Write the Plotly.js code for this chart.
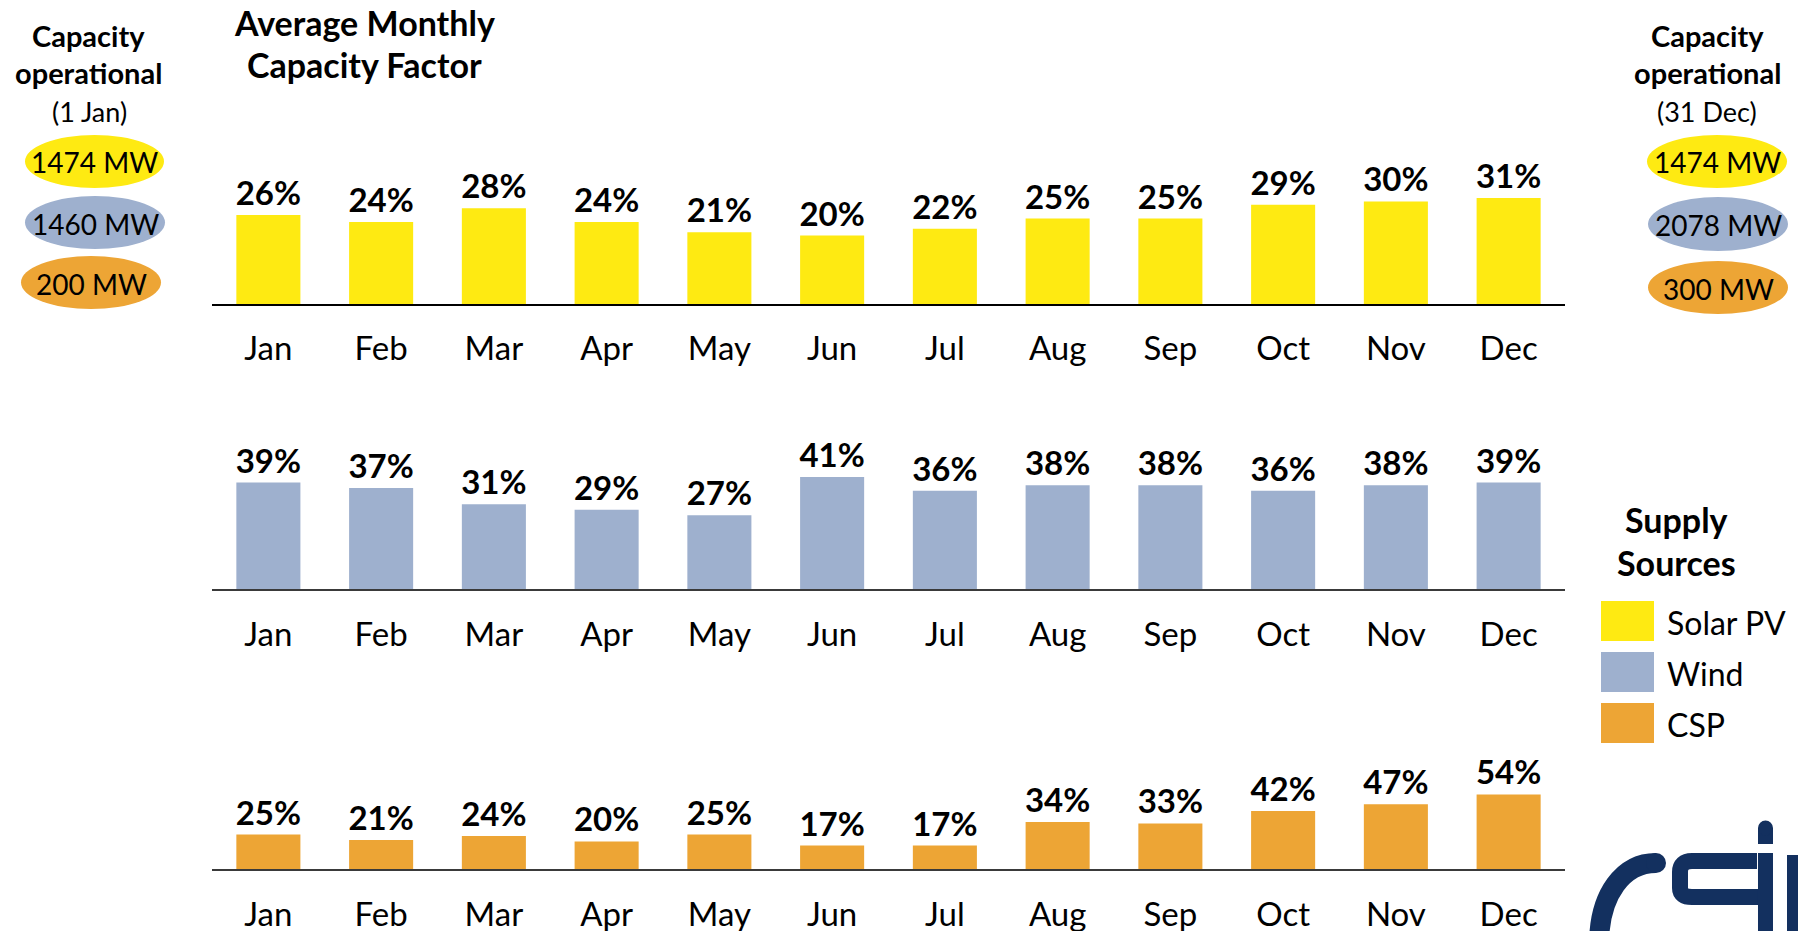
<!DOCTYPE html>
<html>
<head>
<meta charset="utf-8">
<script src="https://cdn.plot.ly/plotly-3.0.1.min.js"></script>
<style>
  html, body { margin: 0; padding: 0; background: #ffffff; }
  #chart { width: 1798px; height: 931px; }
</style>
</head>
<body>
<div id="chart"></div>
<script>
// ---------------- DATA ----------------
const months = ['Jan', 'Feb', 'Mar', 'Apr', 'May', 'Jun', 'Jul', 'Aug', 'Sep', 'Oct', 'Nov', 'Dec'];
const solarPV = [26, 24, 28, 24, 21, 20, 22, 25, 25, 29, 30, 31];
const wind    = [39, 37, 31, 29, 27, 41, 36, 38, 38, 36, 38, 39];
const csp     = [25, 21, 24, 20, 25, 17, 17, 34, 33, 42, 47, 54];
const sourceNames = ['Solar PV', 'Wind', 'CSP'];
const capacityStart = ['1474 MW', '1460 MW', '200 MW'];   // 1 Jan
const capacityEnd   = ['1474 MW', '2078 MW', '300 MW'];   // 31 Dec
const titleLines = ['Average Monthly', 'Capacity Factor'];

// ---------------- STYLE / LAYOUT ----------------
const W = 1798, H = 931;
const FONT = 'Lato, "Open Sans", sans-serif';
const colors = ['#FEEA12', '#9EB0CE', '#EDA535'];
const X = p => p / W;
const Y = p => 1 - p / H;

// panel geometry in pixels: axis baseline, top of panel, px per percent
const panels = [
  { axis: 304, top: 140, ppp: 3.42, line: '#000000', lw: 1.5 },
  { axis: 589, top: 420, ppp: 2.73, line: '#3a3a3a', lw: 2 },
  { axis: 869, top: 690, ppp: 1.38, line: '#3a3a3a', lw: 2 }
];
const series = [solarPV, wind, csp];
const xDomain = [X(212), X(1565)];

const traces = series.map((vals, i) => ({
  type: 'bar',
  x: months,
  y: vals,
  xaxis: i === 0 ? 'x' : 'x' + (i + 1),
  yaxis: i === 0 ? 'y' : 'y' + (i + 1),
  name: sourceNames[i],
  marker: { color: colors[i], line: { width: 0 } },
  text: vals.map(v => v + '%'),
  textposition: 'outside',
  constraintext: 'none',
  cliponaxis: false,
  textfont: { family: FONT, size: 33, color: '#000000', weight: 700 },
  hoverinfo: 'skip'
}));

const layout = {
  width: W, height: H,
  margin: { l: 0, r: 0, t: 0, b: 0, pad: 0 },
  paper_bgcolor: '#ffffff',
  plot_bgcolor: 'rgba(0,0,0,0)',
  showlegend: false,
  bargap: 0.432,
  font: { family: FONT, color: '#000000' },
  shapes: [],
  annotations: []
};

panels.forEach((p, i) => {
  const xa = i === 0 ? 'xaxis' : 'xaxis' + (i + 1);
  const ya = i === 0 ? 'yaxis' : 'yaxis' + (i + 1);
  const yid = i === 0 ? 'y' : 'y' + (i + 1);
  layout[xa] = {
    domain: xDomain,
    anchor: yid,
    type: 'category',
    showline: true, linecolor: p.line, linewidth: p.lw,
    showgrid: false, zeroline: false,
    ticks: '',
    ticklabelstandoff: 15,
    tickfont: { family: FONT, size: 33, color: '#000000' },
    fixedrange: true
  };
  layout[ya] = {
    domain: [Y(p.axis), Y(p.top)],
    range: [0, (p.axis - p.top) / p.ppp],
    visible: false,
    fixedrange: true
  };
});

function ann(text, x, y, size, bold, xanchor) {
  layout.annotations.push({
    text: text, xref: 'paper', yref: 'paper',
    x: X(x), y: Y(y), xanchor: xanchor || 'center', yanchor: 'middle',
    showarrow: false,
    font: { family: FONT, size: size, color: '#000000', weight: bold ? 700 : 400 }
  });
}

// title
ann(titleLines[0], 364, 22, 34, true);
ann(titleLines[1], 364, 65, 34, true);

// capacity headers
ann('Capacity', 88, 35, 29, true);
ann('operational', 88, 72, 29, true);
ann('(1 Jan)', 89, 111, 27, false);
ann('Capacity', 1707, 35, 29, true);
ann('operational', 1707, 72, 29, true);
ann('(31 Dec)', 1707, 111, 27, false);

// pills
const leftPills = [[25, 164, 135, 188], [25, 165, 196, 249], [21, 161, 256, 309]];
const rightPills = [[1647, 1787, 135, 188], [1648, 1788, 197, 251], [1648, 1788, 261, 314]];
function pill(b, color, text) {
  layout.shapes.push({
    type: 'circle', xref: 'paper', yref: 'paper',
    x0: X(b[0]), x1: X(b[1]), y0: Y(b[3]), y1: Y(b[2]),
    fillcolor: color, line: { width: 0 }, layer: 'below'
  });
  ann(text, (b[0] + b[1]) / 2, (b[2] + b[3]) / 2 + 1, 28, false);
}
leftPills.forEach((b, i) => pill(b, colors[i], capacityStart[i]));
rightPills.forEach((b, i) => pill(b, colors[i], capacityEnd[i]));

// legend
ann('Supply', 1676, 519, 34, true);
ann('Sources', 1676, 562, 34, true);
const swY = [[601, 641], [652, 692], [703, 743]];
swY.forEach((s, i) => {
  layout.shapes.push({
    type: 'rect', xref: 'paper', yref: 'paper',
    x0: X(1601), x1: X(1654), y0: Y(s[1]), y1: Y(s[0]),
    fillcolor: colors[i], line: { width: 0 }
  });
  ann(sourceNames[i], 1665, (s[0] + s[1]) / 2 + 1, 32, false, 'left');
});

// CSIR logo (partially cut off at the corner)
const NAVY = '#13305F';
function path(cmds) {
  return cmds.map(c => {
    const out = [];
    for (let k = 1; k < c.length; k += 2) out.push(X(c[k]).toFixed(5) + ',' + Y(c[k + 1]).toFixed(5));
    return c[0] + out.join(' ');
  }).join(' ');
}
function strokePath(cmds, w) {
  layout.shapes.push({ type: 'path', xref: 'paper', yref: 'paper', path: path(cmds), line: { color: NAVY, width: w }, fillcolor: 'rgba(0,0,0,0)' });
}
function dot(cx, cy, r) {
  layout.shapes.push({ type: 'circle', xref: 'paper', yref: 'paper', x0: X(cx - r), x1: X(cx + r), y0: Y(cy + r), y1: Y(cy - r), fillcolor: NAVY, line: { width: 0 } });
}
// c : round quarter arc
strokePath([['M', 1656, 863], ['C', 1624, 863, 1599, 893, 1599, 945]], 20);
dot(1656, 863, 10);
// s joined with i
strokePath([['M', 1757, 861], ['L', 1692, 861], ['C', 1684, 861, 1680, 865, 1680, 872], ['L', 1680, 888], ['C', 1680, 894, 1684, 897, 1692, 897], ['L', 1765, 897]], 16);
dot(1692, 861, 0.1);
strokePath([['M', 1765.5, 853], ['L', 1765.5, 945]], 15);
// i top
strokePath([['M', 1765.5, 828], ['L', 1765.5, 844]], 15);
dot(1765.5, 828, 7.5);
// r stem
layout.shapes.push({ type: 'rect', xref: 'paper', yref: 'paper', x0: X(1787), x1: X(1800), y0: Y(945), y1: Y(855), fillcolor: NAVY, line: { width: 0 } });

Plotly.newPlot('chart', traces, layout, { staticPlot: true, displayModeBar: false });
</script>
</body>
</html>
